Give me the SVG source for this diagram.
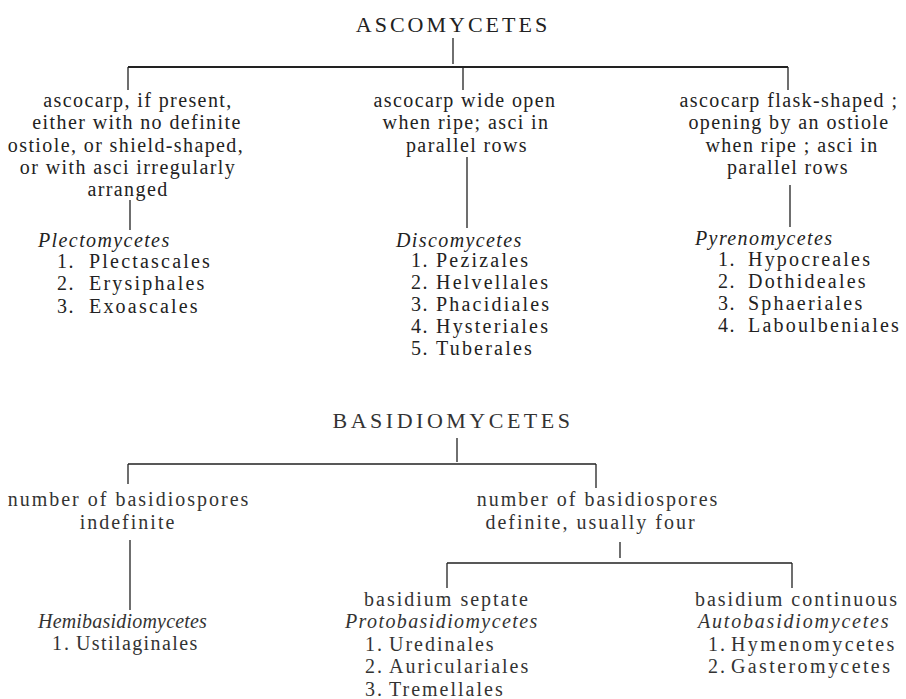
<svg xmlns="http://www.w3.org/2000/svg" width="906" height="699" viewBox="0 0 906 699">
<style>
text{font-family:"Liberation Serif","DejaVu Serif",serif;font-size:20px;fill:#222;letter-spacing:1.4px}
.title{font-size:22px;letter-spacing:3px}
.c{text-anchor:middle}
.it{font-style:italic}
.item{letter-spacing:2.2px}
.ln{stroke:#222;stroke-width:1.3;fill:none}
.bar{stroke:#222;stroke-width:2;fill:none}
.low text{fill:#333;letter-spacing:2px}
.low .it{letter-spacing:1.4px}
</style>
<rect width="906" height="699" fill="#fff"/>
<g id="connectors">
<path class="ln" d="M453,38V64"/>
<path class="bar" d="M128,67H788"/>
<path class="ln" d="M128,67V90M463,67V90M788,67V90"/>
<path class="ln" d="M130,200V230M467,157V228M790,185V227"/>
<path class="ln" d="M457,438V462"/>
<path class="ln" d="M128,464H596M128,464V484M596,464V488"/>
<path class="ln" d="M130,540V610M620,542V558"/>
<path class="ln" d="M447,563H792M447,563V588M792,563V588"/>
</g>
<g id="ascomycetes"><text class="title c" x="453" y="32">ASCOMYCETES</text></g>
<g id="asc-left">
<text class="c" x="138" y="107">ascocarp, if present,</text>
<text class="c" x="137" y="129">either with no definite</text>
<text class="c" x="126" y="152">ostiole, or shield-shaped,</text>
<text class="c" x="128" y="174">or with asci irregularly</text>
<text class="c" x="128" y="196">arranged</text>
</g>
<g id="asc-mid">
<text class="c" x="465" y="107">ascocarp wide open</text>
<text class="c" x="466" y="129">when ripe; asci in</text>
<text class="c" x="467" y="152">parallel rows</text>
</g>
<g id="asc-right">
<text class="c" x="789" y="107">ascocarp flask-shaped ;</text>
<text class="c" x="789" y="129">opening by an ostiole</text>
<text class="c" x="792" y="152">when ripe ; asci in</text>
<text class="c" x="788" y="174">parallel rows</text>
</g>
<g id="plectomycetes">
<text class="it" x="38" y="247">Plectomycetes</text>
<text x="57" y="268">1.</text><text class="item" x="89" y="268">Plectascales</text>
<text x="57" y="290">2.</text><text class="item" x="89" y="290">Erysiphales</text>
<text x="57" y="313">3.</text><text class="item" x="89" y="313">Exoascales</text>
</g>
<g id="discomycetes">
<text class="it" x="396" y="247">Discomycetes</text>
<text x="411" y="267">1.</text><text class="item" x="436" y="267">Pezizales</text>
<text x="411" y="289">2.</text><text class="item" x="436" y="289">Helvellales</text>
<text x="411" y="311">3.</text><text class="item" x="436" y="311">Phacidiales</text>
<text x="411" y="333">4.</text><text class="item" x="436" y="333">Hysteriales</text>
<text x="411" y="355">5.</text><text class="item" x="436" y="355">Tuberales</text>
</g>
<g id="pyrenomycetes">
<text class="it" x="695" y="245">Pyrenomycetes</text>
<text x="718" y="266">1.</text><text class="item" x="748" y="266">Hypocreales</text>
<text x="718" y="288">2.</text><text class="item" x="748" y="288">Dothideales</text>
<text x="718" y="310">3.</text><text class="item" x="748" y="310">Sphaeriales</text>
<text x="718" y="332">4.</text><text class="item" x="748" y="332">Laboulbeniales</text>
</g>
<g class="low">
<g id="basidiomycetes"><text class="title c" x="453" y="428" style="letter-spacing:3.5px">BASIDIOMYCETES</text></g>
<g id="bas-left">
<text class="c" x="129" y="506">number of basidiospores</text>
<text class="c" x="128" y="529">indefinite</text>
</g>
<g id="bas-right">
<text class="c" x="598" y="506">number of basidiospores</text>
<text class="c" x="591" y="529">definite, usually four</text>
</g>
<g id="hemibasidiomycetes">
<text class="it" x="38" y="628" style="letter-spacing:0.2px">Hemibasidiomycetes</text>
<text x="52" y="650">1.</text><text x="76" y="650" style="letter-spacing:1.4px">Ustilaginales</text>
</g>
<g id="protobasidiomycetes">
<text class="c" x="447" y="606">basidium septate</text>
<text class="it" x="345" y="628">Protobasidiomycetes</text>
<text x="365" y="651">1.</text><text x="389" y="651">Uredinales</text>
<text x="365" y="673">2.</text><text x="389" y="673">Auriculariales</text>
<text x="365" y="696">3.</text><text x="389" y="696">Tremellales</text>
</g>
<g id="autobasidiomycetes">
<text class="c" x="797" y="606">basidium continuous</text>
<text class="it" x="698" y="628" style="letter-spacing:1.8px">Autobasidiomycetes</text>
<text x="708" y="651">1.</text><text x="731" y="651" style="letter-spacing:2.4px">Hymenomycetes</text>
<text x="708" y="673">2.</text><text x="731" y="673" style="letter-spacing:2.4px">Gasteromycetes</text>
</g>
</g>
</svg>
